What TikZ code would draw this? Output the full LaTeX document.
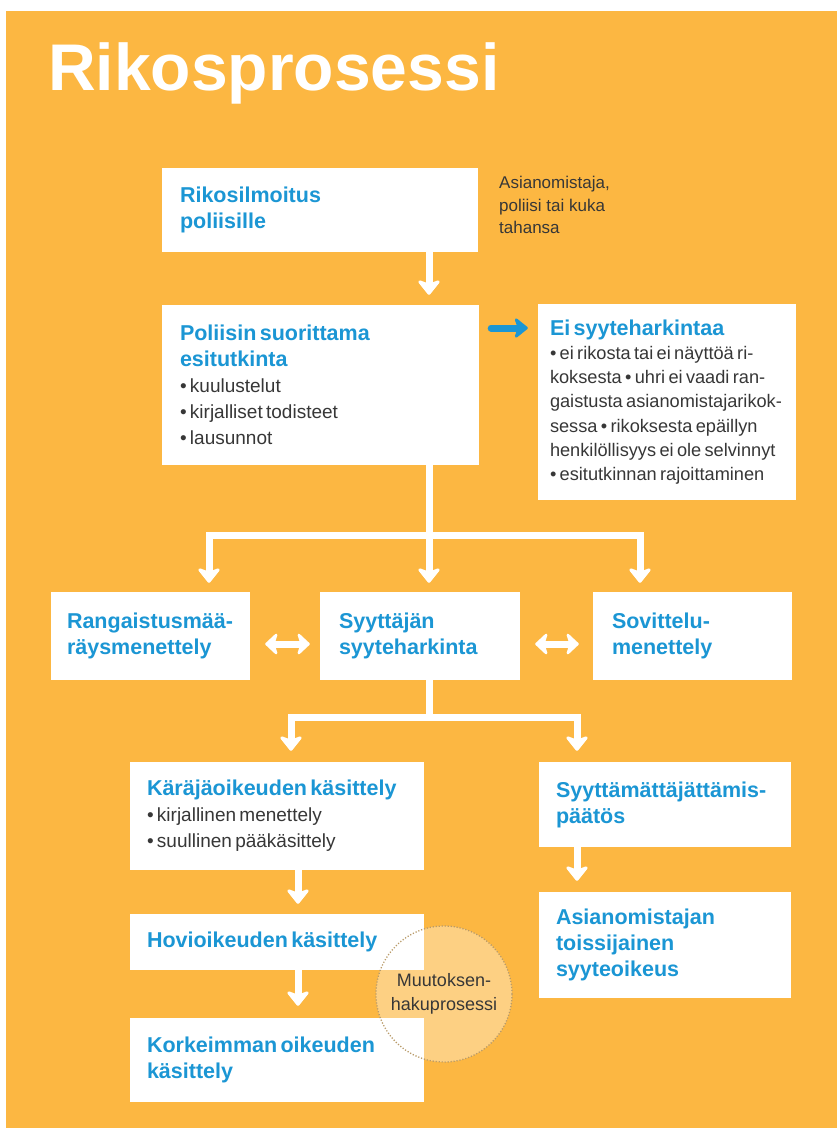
\documentclass[tikz,border=0pt]{standalone}
\usepackage{fontspec}
\setmainfont{Liberation Sans}
\usetikzlibrary{arrows.meta,calc}
\definecolor{bgor}{RGB}{252,183,66}
\definecolor{tblue}{RGB}{27,150,212}
\definecolor{tgray}{RGB}{55,55,55}
\definecolor{cborder}{RGB}{185,155,105}
\newcommand\hdtxt{\fontsize{21.5}{26}\selectfont\bfseries\color{tblue}}
\newcommand\bdtxt{\fontsize{19}{26}\selectfont\mdseries\color{tgray}}
\newcommand\bdtxtb{\fontsize{18.2}{24.3}\selectfont\mdseries\color{tgray}}
\hyphenpenalty=10000 \exhyphenpenalty=10000
\begin{document}
\begin{tikzpicture}[x=1pt,y=-1pt,
  box/.style={fill=white, draw=none, inner xsep=18pt, inner ysep=3pt, align=left, anchor=center},
  wl/.style={draw=white, line width=7pt},
  wa/.style={wl, -{Stealth[width=27pt,length=17pt,inset=5pt,round]}},
  da/.style={wl, {Stealth[width=26pt,length=14pt,inset=4pt,round]}-{Stealth[width=26pt,length=14pt,inset=4pt,round]}},
  ba/.style={draw=tblue, line width=7pt, line cap=round, -{Stealth[width=24pt,length=15pt,inset=4pt,round]}}
]
\useasboundingbox (0,0) rectangle (837,1128);
\fill[white] (0,0) rectangle (837,1128);
\fill[bgor] (6,11) rectangle (837,1128);

\node[anchor=base west, inner sep=0pt, text=white, font=\fontsize{66}{70}\selectfont\bfseries] (title) at (48,90) {Rikosprosessi};

\node[box, text width=280pt, minimum height=84pt] (rik) at (320,210) {{\hdtxt Rikosilmoitus\\poliisille\par}};
\node[anchor=north west, inner sep=0pt, align=left, text=tgray, font=\fontsize{17}{22.5}\selectfont] (note) at (499,176) {Asianomistaja,\\poliisi tai kuka\\tahansa};

\node[box, text width=281pt, minimum height=160pt] (pol) at (320.5,385) {{\hdtxt Poliisin suorittama\\esitutkinta\par}{\bdtxt • kuulustelut\\• kirjalliset todisteet\\• lausunnot\par}};

\node[box, inner xsep=12pt, text width=234pt, minimum height=196pt] (ei) at (667,402) {{\hdtxt Ei syyteharkintaa\par}{\bdtxtb \mbox{• ei rikosta tai ei näyttöä ri-}\\\mbox{koksesta • uhri ei vaadi ran-}\\\mbox{gaistusta asianomistajarikok-}\\\mbox{sessa • rikoksesta epäillyn}\\\mbox{henkilöllisyys ei ole selvinnyt}\\\mbox{• esitutkinnan rajoittaminen}\par}};

\node[box, inner xsep=16pt, text width=167pt, minimum height=88pt] (rang) at (150.5,636) {{\hdtxt Rangaistusmää-\\räysmenettely\par}};
\node[box, inner xsep=19pt, text width=162pt, minimum height=88pt] (syy) at (420,636) {{\hdtxt Syyttäjän\\syyteharkinta\par}};
\node[box, inner xsep=19pt, text width=161pt, minimum height=88pt] (sov) at (692.5,636) {{\hdtxt Sovittelu-\\menettely\par}};

\node[box, inner xsep=17pt, text width=260pt, minimum height=108pt] (kar) at (277,816) {{\hdtxt Käräjäoikeuden käsittely\par}{\bdtxt • kirjallinen menettely\\• suullinen pääkäsittely\par}};
\node[box, inner xsep=17pt, text width=218pt, minimum height=85pt] (sya) at (665,804.5) {{\hdtxt Syyttämättäjättämis-\\päätös\par}};
\node[box, inner xsep=17pt, text width=218pt, minimum height=106pt] (asi2) at (665,945) {{\hdtxt Asianomistajan\\toissijainen\\syyteoikeus\par}};
\node[box, inner xsep=17pt, text width=260pt, minimum height=56pt] (hov) at (277,942) {{\hdtxt Hovioikeuden käsittely\par}};
\node[box, inner xsep=17pt, text width=260pt, minimum height=84pt] (kor) at (277,1060) {{\hdtxt Korkeimman oikeuden\\käsittely\par}};

\coordinate (cx) at (429,0);
\coordinate (cL) at (209,0);
\coordinate (cR) at (640,0);
\coordinate (br1) at (429,535);
\coordinate (br2) at (429,717);
\coordinate (dL) at (291,0);
\coordinate (dR) at (577,0);
\coordinate (eL) at (298,0);

\draw[wa] (rik.south -| cx) -- ($(pol.north -| cx)+(0,-10)$);
\draw[wl] (pol.south -| cx) -- (br1);
\draw[wa] (br1) -- ($(syy.north -| cx)+(0,-9)$);
\draw[wa] (br1) -| ($(rang.north -| cL)+(0,-9)$);
\draw[wa] (br1) -| ($(sov.north -| cR)+(0,-9)$);

\draw[wl] (syy.south -| cx) -- (br2);
\draw[wa] (br2) -| ($(kar.north -| dL)+(0,-11)$);
\draw[wa] (br2) -| ($(sya.north -| dR)+(0,-11)$);
\draw[wa] (kar.south -| eL) -- ($(hov.north -| eL)+(0,-10)$);
\draw[wa] (hov.south -| eL) -- ($(kor.north -| eL)+(0,-12)$);
\draw[wa] (sya.south -| dR) -- ($(asi2.north -| dR)+(0,-11)$);

\draw[ba] ($(pol.east)+(12,-57)$) -- ($(ei.west)+(-10,-74)$);
\draw[da] ($(rang.east)+(15,8)$) -- ($(syy.west)+(-10,8)$);
\draw[da] ($(syy.east)+(15,8)$) -- ($(sov.west)+(-14,8)$);

\node[circle, minimum size=136pt, inner sep=0pt, fill=white, fill opacity=0.35, text opacity=1, draw=cborder, draw opacity=1, line width=1.3pt, dash pattern=on 1.2pt off 1.8pt, align=center, text=tgray, font=\fontsize{18}{24.5}\selectfont] (muut) at (444,994) {Muutoksen-\\hakuprosessi};
\end{tikzpicture}
\end{document}
